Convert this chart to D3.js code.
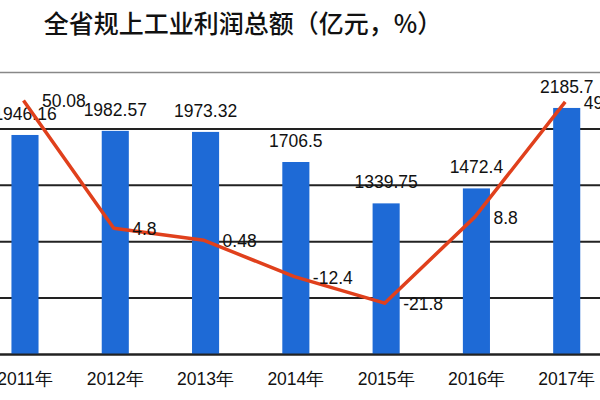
<!DOCTYPE html>
<html><head><meta charset="utf-8">
<script src="https://cdn.jsdelivr.net/npm/d3@7/dist/d3.min.js"></script>
<style>body{margin:0;background:#fff}svg{display:block}</style>
</head><body>
<svg id="c" width="600" height="400"></svg>
<script>
const title = "全省规上工业利润总额（亿元，%）";
const years = ["2011年","2012年","2013年","2014年","2015年","2016年","2017年"];
const profit = [1946.16,1982.57,1973.32,1706.5,1339.75,1472.4,2185.7];
const profitLabels = ["1946.16","1982.57","1973.32","1706.5","1339.75","1472.4","2185.7"];
const growth = [50.08,4.8,0.48,-12.4,-21.8,8.8,49.6];
const growthLabels = ["50.08","4.8","0.48","-12.4","-21.8","8.8","49.6"];
const leftTicks = [0,500,1000,1500,2000,2500];

const svg = d3.select("#c");
const font = "'Liberation Sans', Arial, sans-serif";
const x = d3.scaleBand().domain(years).range([-20.15, 611.85]).paddingInner(0.70).paddingOuter(0.35);
const yL = d3.scaleLinear().domain([0,2500]).range([354.5,72.5]);
const yR = d3.scaleLinear().domain([-40,60]).range([354.5,72.5]);
const cx = d => x(d) + x.bandwidth()/2;

// title
svg.append("text").attr("x",243).attr("y",33).attr("text-anchor","middle")
  .attr("font-family","'Noto Sans CJK SC', sans-serif").attr("font-size",25)
  .attr("font-weight",500).attr("fill","#111").text(title);

// gridlines
svg.append("g").selectAll("line").data(leftTicks).join("line")
  .attr("x1",0).attr("x2",600).attr("y1",d=>yL(d)).attr("y2",d=>yL(d))
  .attr("stroke",d=>d===2500?"#888":"#222").attr("stroke-width",d=>d===2500?1.5:2);

// bars
svg.append("g").selectAll("rect").data(profit).join("rect")
  .attr("x",(d,i)=>x(years[i])).attr("width",x.bandwidth())
  .attr("y",d=>yL(d)).attr("height",d=>yL(0)-yL(d)).attr("fill","#1e6ad6");

// baseline redraw
svg.append("line").attr("x1",0).attr("x2",600).attr("y1",yL(0)).attr("y2",yL(0))
  .attr("stroke","#222").attr("stroke-width",2);

// bar labels
svg.append("g").selectAll("text").data(profit).join("text")
  .attr("x",(d,i)=>cx(years[i])).attr("y",d=>yL(d)-15).attr("text-anchor","middle")
  .attr("font-family",font).attr("font-size",17.5).attr("fill","#111")
  .text((d,i)=>profitLabels[i]);

// line
const line = d3.line().x((d,i)=>cx(years[i])-1.5).y(d=>yR(d));
svg.append("path").datum(growth).attr("d",line).attr("fill","none")
  .attr("stroke","#e0401c").attr("stroke-width",3.5).attr("stroke-linejoin","round");

// line labels
svg.append("g").selectAll("text").data(growth).join("text")
  .attr("x",(d,i)=>cx(years[i])+17).attr("y",d=>yR(d)+7)
  .attr("font-family",font).attr("font-size",17.5).attr("fill","#111")
  .text((d,i)=>growthLabels[i]);

// x labels
svg.append("g").selectAll("text").data(years).join("text")
  .attr("x",d=>cx(d)).attr("y",385).attr("text-anchor","middle")
  .attr("font-family",font).attr("font-size",17.5).attr("fill","#111").text(d=>d);
</script>
</body></html>
